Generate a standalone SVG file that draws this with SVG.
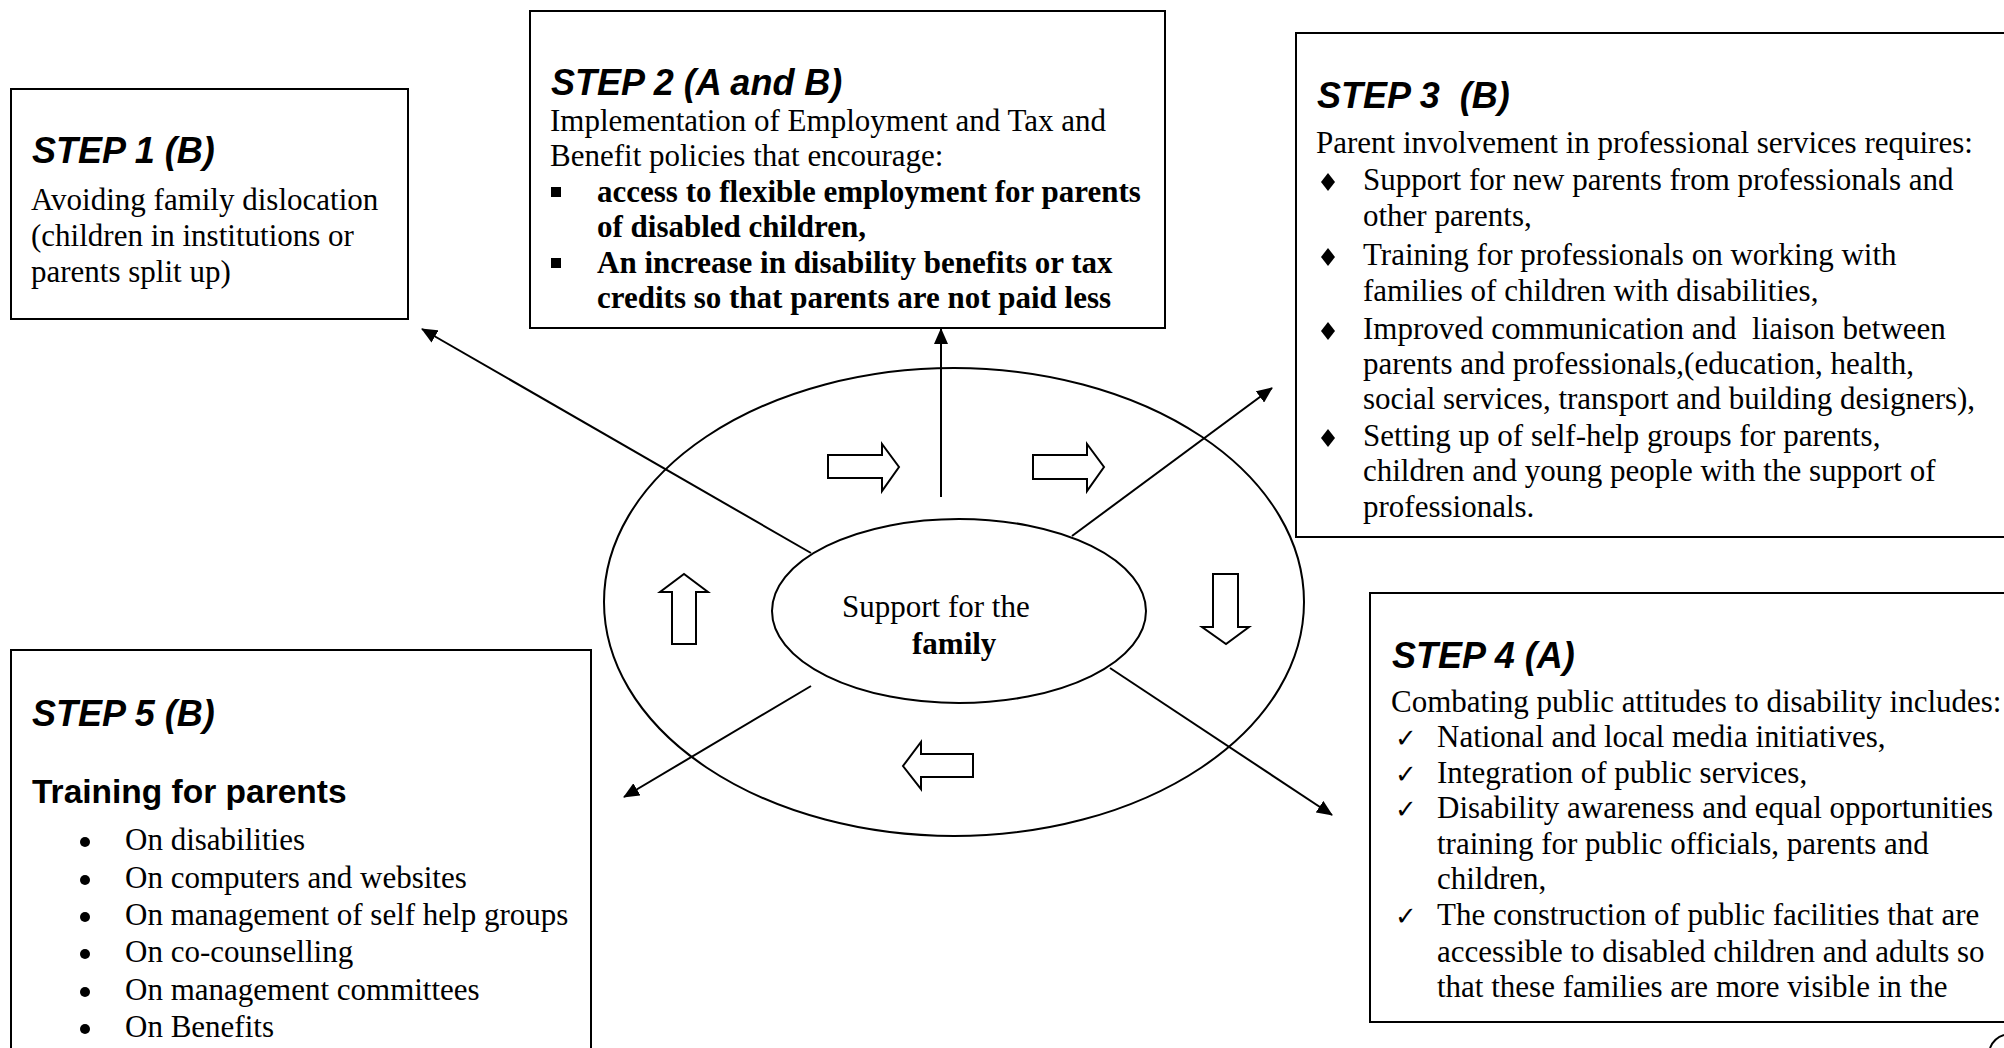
<svg xmlns="http://www.w3.org/2000/svg" width="2004" height="1048" viewBox="0 0 2004 1048">
<style>
.box{fill:#fff;stroke:#000;stroke-width:2}
.ttl{font-family:"Liberation Sans",Arial,sans-serif;font-weight:bold;font-style:italic;font-size:36px;fill:#000}
.sub{font-family:"Liberation Sans",Arial,sans-serif;font-weight:bold;font-size:33.5px;fill:#000}
.tx{font-family:"Liberation Serif","Times New Roman",serif;font-size:31px;fill:#000}
.bd{font-family:"Liberation Serif","Times New Roman",serif;font-size:31px;font-weight:bold;fill:#000}
.chk{font-family:"DejaVu Sans",sans-serif;font-size:26px;fill:#000}
.ell{fill:none;stroke:#000;stroke-width:2}
.con{fill:none;stroke:#000;stroke-width:2;marker-end:url(#ah)}
.blk{fill:#fff;stroke:#000;stroke-width:2;stroke-linejoin:miter}
</style>
<defs>
<marker id="ah" viewBox="0 0 16 14" refX="15" refY="7" markerWidth="16" markerHeight="14" markerUnits="userSpaceOnUse" orient="auto">
<path d="M0,0 L16,7 L0,14 z" fill="#000"/>
</marker>
</defs>
<rect width="2004" height="1048" fill="#fff"/>

<g id="hub">
<ellipse class="ell" cx="954" cy="602" rx="350" ry="234"/>
<ellipse class="ell" cx="959" cy="611" rx="187" ry="92"/>
<text class="tx" x="842" y="617">Support for the</text>
<text class="bd" x="912" y="654">family</text>
</g>

<g id="cycle-arrows">
<polygon class="blk" points="828,455 882,455 882,444 899,467 882,491 882,478 828,478"/>
<polygon class="blk" points="1033,455 1087,455 1087,444 1104,467 1087,491 1087,479 1033,479"/>
<polygon class="blk" points="1213,574 1238,574 1238,627 1249,627 1226,644 1202,627 1213,627"/>
<polygon class="blk" points="973,754 921,754 921,742 903,766 921,789 921,777 973,777"/>
<polygon class="blk" points="672,644 672,592 660,592 684,574 708,592 696,592 696,644"/>
</g>

<g id="connectors">
<line class="con" x1="811" y1="553" x2="422" y2="329"/>
<line class="con" x1="941" y1="497" x2="941" y2="329"/>
<line class="con" x1="1072" y1="536" x2="1272" y2="388"/>
<line class="con" x1="1110" y1="668" x2="1332" y2="815"/>
<line class="con" x1="811" y1="686" x2="624" y2="797"/>
</g>

<g id="step1">
<rect class="box" x="11" y="89" width="397" height="230"/>
<text class="ttl" x="32" y="163">STEP 1 (B)</text>
<text class="tx" x="31" y="210">Avoiding family dislocation</text>
<text class="tx" x="31" y="246">(children in institutions or</text>
<text class="tx" x="31" y="282">parents split up)</text>
</g>

<g id="step2">
<rect class="box" x="530" y="11" width="635" height="317"/>
<text class="ttl" x="551" y="95">STEP 2 (A and B)</text>
<text class="tx" x="550" y="131">Implementation of Employment and Tax and</text>
<text class="tx" x="550" y="166">Benefit policies that encourage:</text>
<rect x="551" y="187" width="10" height="10" fill="#000"/>
<text class="bd" x="597" y="202">access to flexible employment for parents</text>
<text class="bd" x="597" y="237">of disabled children,</text>
<rect x="551" y="258" width="10" height="10" fill="#000"/>
<text class="bd" x="597" y="273">An increase in disability benefits or tax</text>
<text class="bd" x="597" y="308">credits so that parents are not paid less</text>
</g>

<g id="step3">
<rect class="box" x="1296" y="33" width="720" height="504"/>
<text class="ttl" x="1317" y="108">STEP 3&#160; (B)</text>
<text class="tx" x="1316" y="153">Parent involvement in professional services requires:</text>
<polygon points="1328,173 1335,182 1328,191 1321,182" fill="#000"/>
<text class="tx" x="1363" y="190">Support for new parents from professionals and</text>
<text class="tx" x="1363" y="226">other parents,</text>
<polygon points="1328,248 1335,257 1328,266 1321,257" fill="#000"/>
<text class="tx" x="1363" y="265">Training for professionals on working with</text>
<text class="tx" x="1363" y="301">families of children with disabilities,</text>
<polygon points="1328,322 1335,331 1328,340 1321,331" fill="#000"/>
<text class="tx" x="1363" y="339" xml:space="preserve">Improved communication and  liaison between</text>
<text class="tx" x="1363" y="374">parents and professionals,(education, health,</text>
<text class="tx" x="1363" y="409">social services, transport and building designers),</text>
<polygon points="1328,429 1335,438 1328,447 1321,438" fill="#000"/>
<text class="tx" x="1363" y="446">Setting up of self-help groups for parents,</text>
<text class="tx" x="1363" y="481">children and young people with the support of</text>
<text class="tx" x="1363" y="517">professionals.</text>
</g>

<g id="step4">
<rect class="box" x="1370" y="593" width="650" height="429"/>
<text class="ttl" x="1392" y="668">STEP 4 (A)</text>
<text class="tx" x="1391" y="712">Combating public attitudes to disability includes:</text>
<text class="chk" x="1395" y="747">✓</text>
<text class="tx" x="1437" y="747">National and local media initiatives,</text>
<text class="chk" x="1395" y="783">✓</text>
<text class="tx" x="1437" y="783">Integration of public services,</text>
<text class="chk" x="1395" y="818">✓</text>
<text class="tx" x="1437" y="818">Disability awareness and equal opportunities</text>
<text class="tx" x="1437" y="854">training for public officials, parents and</text>
<text class="tx" x="1437" y="889">children,</text>
<text class="chk" x="1395" y="925">✓</text>
<text class="tx" x="1437" y="925">The construction of public facilities that are</text>
<text class="tx" x="1437" y="962">accessible to disabled children and adults so</text>
<text class="tx" x="1437" y="997">that these families are more visible in the</text>
</g>

<g id="step5">
<rect class="box" x="11" y="650" width="580" height="420"/>
<text class="ttl" x="32" y="726">STEP 5 (B)</text>
<text class="sub" x="32" y="803">Training for parents</text>
<circle cx="85" cy="842" r="5" fill="#000"/>
<text class="tx" x="125" y="850">On disabilities</text>
<circle cx="85" cy="880" r="5" fill="#000"/>
<text class="tx" x="125" y="888">On computers and websites</text>
<circle cx="85" cy="917" r="5" fill="#000"/>
<text class="tx" x="125" y="925">On management of self help groups</text>
<circle cx="85" cy="954" r="5" fill="#000"/>
<text class="tx" x="125" y="962">On co-counselling</text>
<circle cx="85" cy="992" r="5" fill="#000"/>
<text class="tx" x="125" y="1000">On management committees</text>
<circle cx="85" cy="1029" r="5" fill="#000"/>
<text class="tx" x="125" y="1037">On Benefits</text>
</g>

<g id="page-mark">
<path d="M1990,1048 A22,22 0 0 1 2004,1035" fill="none" stroke="#000" stroke-width="2"/>
</g>
</svg>
